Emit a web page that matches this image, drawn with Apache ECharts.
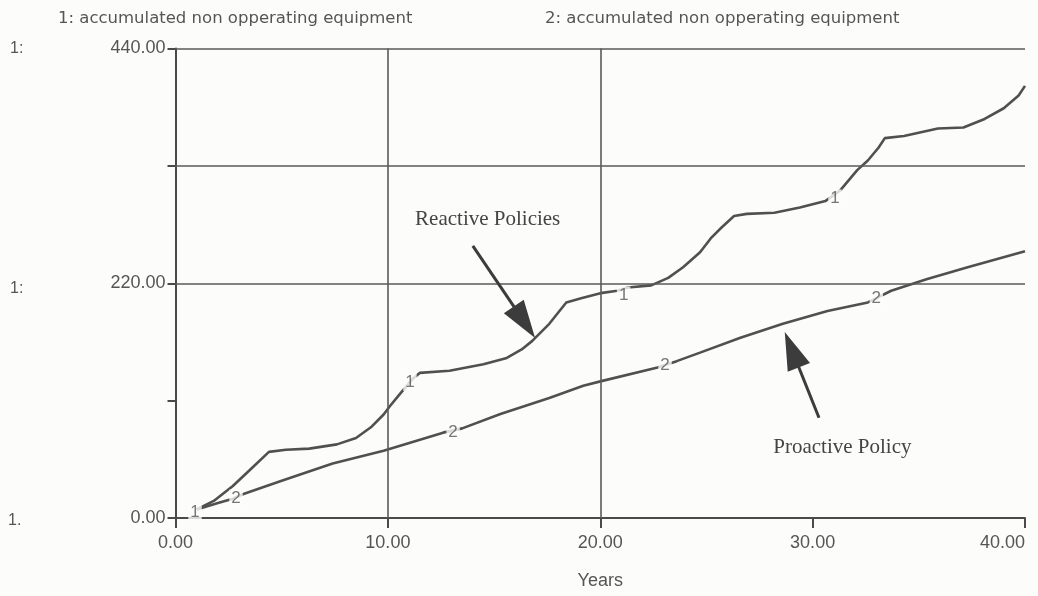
<!DOCTYPE html>
<html>
<head>
<meta charset="utf-8">
<title>Accumulated non opperating equipment</title>
<script src="https://cdn.jsdelivr.net/npm/echarts@6/dist/echarts.min.js"></script>
<style>
  html, body { margin: 0; padding: 0; background: #fcfcfb; overflow: hidden; }
  #chart { width: 1038px; height: 596px; }
</style>
</head>
<body>
<div id="chart"></div>
<script>
// Run 1: reactive policies (years, units)
const reactivePolicies = [
  [1.0, 8], [1.8, 16], [2.7, 30], [3.5, 45], [4.4, 62], [5.2, 64], [6.3, 65],
  [7.6, 69], [8.5, 75], [9.2, 85], [9.8, 97], [10.1, 105], [10.6, 117],
  [11.2, 131], [11.5, 136], [12.9, 138], [14.5, 144], [15.6, 150], [16.3, 158],
  [16.8, 166], [17.6, 182], [18.4, 202], [19.1, 206], [20.1, 211], [20.8, 213],
  [21.3, 216], [22.4, 218], [23.2, 225], [23.9, 235], [24.7, 249], [25.2, 262],
  [25.7, 272], [26.3, 283], [26.9, 285], [28.2, 286], [29.4, 291], [30.6, 297],
  [31.3, 307], [32.1, 326], [32.6, 335], [33.1, 347], [33.4, 356], [34.3, 358],
  [35.9, 365], [37.1, 366], [38.1, 374], [39.0, 384], [39.7, 396], [40.0, 405]
];

// Run 2: proactive policy (years, units)
const proactivePolicy = [
  [1.0, 8], [2.0, 14], [2.7, 18], [3.2, 22.5], [5.0, 35], [7.4, 51], [9.8, 63],
  [12.6, 80], [13.5, 84], [15.3, 97.5], [17.6, 112.5], [19.2, 124], [20.1, 128.5],
  [22.7, 141], [23.6, 147], [24.7, 155], [26.6, 169], [28.6, 182], [30.7, 194],
  [32.6, 202], [33.7, 213], [35.4, 224], [37.3, 235], [40.0, 250]
];

// Where the run numbers are printed along each curve
const reactiveTags = [[0.92, 5.6], [11.04, 127], [21.1, 209], [31.05, 300]];
const proactiveTags = [[2.85, 18.7], [13.07, 80.6], [23.05, 143.4], [33.0, 206]];

// Axis settings and tick labels
const xTicks = [0, 10, 20, 30, 40];
const yLabelled = [0, 220, 440];
const gridRows = [220, 330, 440];
const gridCols = [10, 20];

const headerLeft = '1: accumulated non opperating equipment';
const headerRight = '2: accumulated non opperating equipment';

// Callouts: [text, text centre, arrow tail, arrow head centre]
const callouts = [
  ['Reactive Policies', [14.7, 280], [14.0, 255], [16.43, 183.5]],
  ['Proactive Policy', [31.4, 66], [30.3, 94], [29.02, 157.7]]
];

const ink = '#4a4a4a';
const sans = '"Liberation Sans", Arial, sans-serif';
const wideSans = '"DejaVu Sans", Verdana, sans-serif';
const serif = '"Liberation Serif", "Times New Roman", serif';

const chart = echarts.init(document.getElementById('chart'), null, { renderer: 'canvas' });

const gridLines = [
  ...gridRows.map(v => [{ coord: [0, v] }, { coord: [40, v] }]),
  ...gridCols.map(v => [{ coord: [v, 0] }, { coord: [v, 440] }])
];

const arrowLines = callouts.map(c => [
  { coord: c[2] },
  { coord: c[3] }
]);

const tagSeries = (name, points, text) => ({
  name: name,
  type: 'scatter',
  data: points,
  symbolSize: 1,
  itemStyle: { color: 'rgba(0,0,0,0)' },
  silent: true,
  z: 5,
  label: {
    show: true,
    position: 'inside',
    formatter: text,
    color: '#555',
    fontFamily: sans,
    fontSize: 17,
    backgroundColor: '#fcfcfb',
    padding: [0, 2]
  }
});

chart.setOption({
  backgroundColor: '#fcfcfb',
  animation: false,
  grid: {
    left: 175.5, right: 13, top: 48.5, bottom: 78,
    containLabel: false,
    outerBoundsMode: 'none'
  },
  xAxis: {
    type: 'value',
    min: 0, max: 40, interval: 10,
    name: 'Years',
    nameLocation: 'middle',
    nameGap: 54,
    nameTextStyle: { color: '#555', fontFamily: sans, fontSize: 18 },
    axisLine: { show: true, onZero: false, lineStyle: { color: ink, width: 2 } },
    axisTick: { show: true, length: 10, lineStyle: { color: ink, width: 2 } },
    axisLabel: {
      color: '#555', fontFamily: sans, fontSize: 18, margin: 16,
      alignMaxLabel: 'right',
      formatter: v => xTicks.includes(v) ? v.toFixed(2) : ''
    },
    splitLine: { show: false }
  },
  yAxis: {
    type: 'value',
    min: 0, max: 440, interval: 110,
    axisLine: { show: true, lineStyle: { color: ink, width: 2 } },
    axisTick: { show: true, length: 8, lineStyle: { color: ink, width: 2 } },
    axisLabel: {
      color: '#555', fontFamily: sans, fontSize: 18, margin: 10,
      formatter: v => yLabelled.includes(v) ? v.toFixed(2) : ''
    },
    splitLine: { show: false }
  },
  graphic: [
    { type: 'text', left: 58, top: 10, style: { text: headerLeft, fill: '#555', font: '16.5px ' + wideSans } },
    { type: 'text', left: 545, top: 10, style: { text: headerRight, fill: '#555', font: '16.5px ' + wideSans } },
    { type: 'text', left: 10, top: 41, style: { text: '1:', fill: '#555', font: '16px ' + sans } },
    { type: 'text', left: 10, top: 281, style: { text: '1:', fill: '#555', font: '16px ' + sans } },
    { type: 'text', left: 8, top: 513, style: { text: '1.', fill: '#555', font: '16px ' + sans } }
  ],
  series: [
    {
      name: 'grid',
      type: 'line',
      data: [],
      silent: true,
      z: 1,
      markLine: {
        silent: true,
        symbol: ['none', 'none'],
        label: { show: false },
        lineStyle: { color: '#5a5a5a', width: 1.6, type: 'solid' },
        data: gridLines
      }
    },
    {
      name: 'Reactive Policies',
      type: 'line',
      data: reactivePolicies,
      showSymbol: false,
      lineStyle: { color: '#505050', width: 2.6 },
      z: 3
    },
    {
      name: 'Proactive Policy',
      type: 'line',
      data: proactivePolicy,
      showSymbol: false,
      lineStyle: { color: '#505050', width: 2.6 },
      z: 3
    },
    tagSeries('run 1', reactiveTags, '1'),
    tagSeries('run 2', proactiveTags, '2'),
    {
      name: 'callouts',
      type: 'line',
      data: [],
      silent: true,
      z: 6,
      markLine: {
        silent: true,
        symbol: ['none', 'triangle'],
        symbolSize: [24, 38],
        label: { show: false },
        lineStyle: { color: '#3c3c3c', width: 3, type: 'solid' },
        itemStyle: { color: '#3c3c3c' },
        data: arrowLines
      },
      markPoint: {
        silent: true,
        symbol: 'circle',
        symbolSize: 0,
        label: {
          show: true,
          position: 'inside',
          color: '#444',
          fontFamily: serif,
          fontSize: 21,
          formatter: p => p.name
        },
        data: callouts.map(c => ({ name: c[0], coord: c[1] }))
      }
    }
  ]
});
</script>
</body>
</html>
